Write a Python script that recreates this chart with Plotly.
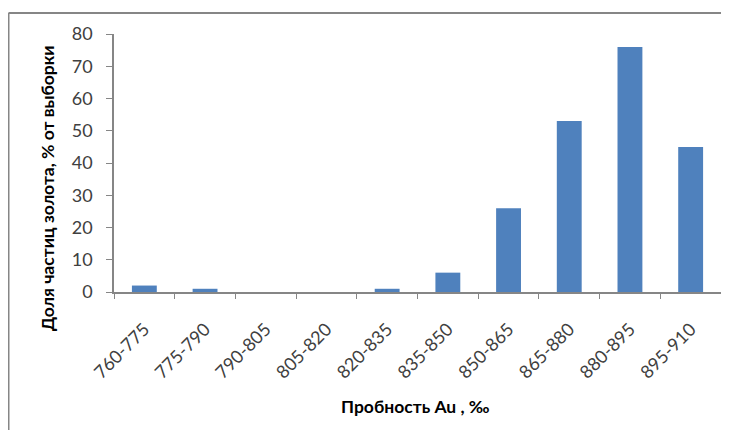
import plotly.graph_objects as go

categories = ["760-775", "775-790", "790-805", "805-820", "820-835",
              "835-850", "850-865", "865-880", "880-895", "895-910"]
values = [2, 1, 0, 0, 1, 6, 26, 53, 76, 45]
y_ticks = [0, 10, 20, 30, 40, 50, 60, 70, 80]

FONT = "Lato, Carlito, 'Liberation Sans', sans-serif"
AXIS = "#868686"
TEXT = "#404040"

# the page body has an 8px margin; plot area in page pixels:
PX0, PX1, PY0, PY1 = 114, 721, 34, 292
OFF = 8


def px(x):
    return (x - PX0) / (PX1 - PX0)


def py(y):
    return (PY1 - y) / (PY1 - PY0)


fig = go.Figure(go.Bar(
    x=categories, y=values,
    marker=dict(color="#4F81BD", line=dict(width=0)),
    width=0.41,
))

W, H = 729 - OFF, 430 - OFF
fig.update_layout(
    width=W, height=H,
    margin=dict(l=PX0 - OFF, r=729 - PX1, t=PY0 - OFF, b=430 - PY1),
    paper_bgcolor="white", plot_bgcolor="white",
    showlegend=False,
    font=dict(family=FONT, color=TEXT),
    xaxis=dict(
        type="category", showline=True, linecolor=AXIS, linewidth=1.5,
        ticks="outside", tickson="boundaries", ticklen=5, tickcolor=AXIS,
        tickangle=-45, tickfont=dict(size=18, color=TEXT),
        ticklabelstandoff=18,
        showgrid=False, automargin=False,
    ),
    yaxis=dict(
        range=[0, 80], tickvals=y_ticks, showline=True, linecolor=AXIS,
        linewidth=1.5, ticks="outside", ticklen=6, tickcolor=AXIS,
        tickfont=dict(size=18, color=TEXT), ticklabelstandoff=10,
        showgrid=False, zeroline=False, automargin=False,
    ),
    shapes=[
        dict(type="line", xref="paper", yref="paper", x0=px(8.5), x1=px(740),
             y0=py(13), y1=py(13), line=dict(color=AXIS, width=2)),
        dict(type="line", xref="paper", yref="paper", x0=px(8.5), x1=px(8.5),
             y0=py(13), y1=py(440), line=dict(color=AXIS, width=2)),
    ],
    annotations=[
        dict(text="<b>Доля частиц золота, % от выборки</b>", textangle=-90,
             xref="paper", yref="paper", x=px(47), y=py(188),
             xanchor="center", yanchor="middle", showarrow=False,
             font=dict(size=17.5, color="black", family=FONT)),
        dict(text="<b>Пробность Au , ‰</b>",
             xref="paper", yref="paper", x=px(415), y=py(406),
             xanchor="center", yanchor="middle", showarrow=False,
             font=dict(size=17.5, color="black", family=FONT)),
    ],
)

fig.write_html("out.html")
